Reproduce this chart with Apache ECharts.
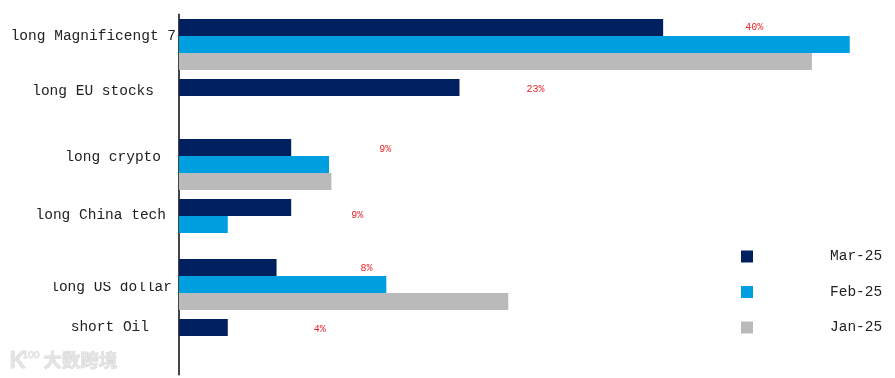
<!DOCTYPE html>
<html>
<head>
<meta charset="utf-8">
<style>
  html, body { margin: 0; padding: 0; background: #fff; }
  #chart { width: 895px; height: 378px; }
</style>
<script src="https://cdn.jsdelivr.net/npm/echarts@6/dist/echarts.min.js"></script>
</head>
<body>
<div id="chart"></div>
<script>
// categories, top to bottom
const categories = ['long Magnificengt 7', 'long EU stocks', 'long crypto', 'long China tech', 'long US dollar', 'short Oil'];

// values in %
const mar25 = [39.7, 23, 9.2, 9.2, 8, 4];
const feb25 = [55, null, 12.3, 4, 17, null];
const jan25 = [51.9, null, 12.5, null, 27, null];

// the picture's labels sit away from the bars and off-centre, so nudge each one
const labelNudge = [[82, 0], [67, 2], [88, 2], [60, 8], [84, 1], [86, 2]];
const catLabelPadding = [[0, 3, 1, 0], [0, 25, 6, 0], [0, 18, 0, 0], [0, 13, 2, 0], [0, 7, -10, 0], [0, 30, 10, 0]];

const chart = echarts.init(document.getElementById('chart'));
const fontFamily = '"Liberation Mono", monospace';

chart.setOption({
  animation: false,
  backgroundColor: '#fff',
  grid: { left: 179, top: 14.5, width: 700, height: 360 },
  legend: {
    orient: 'vertical',
    left: 741,
    top: 249,
    padding: 0,
    itemWidth: 12,
    itemHeight: 12,
    itemGap: 20.5,
    icon: 'rect',
    selectedMode: false,
    textStyle: { fontFamily: fontFamily, fontSize: 14.5, color: '#222', padding: [0, 0, 0, 72] }
  },
  xAxis: { type: 'value', min: 0, max: 57.4, show: false },
  yAxis: {
    type: 'category',
    inverse: true,
    data: categories.map((name, i) => ({
      value: name,
      textStyle: { verticalAlign: 'bottom', padding: catLabelPadding[i] }
    })),
    axisLine: { lineStyle: { color: '#444', width: 2 } },
    axisTick: { show: false },
    axisLabel: { margin: 0, fontFamily: fontFamily, fontSize: 14.5, color: '#222' }
  },
  series: [
    {
      name: 'Mar-25',
      type: 'bar',
      data: mar25.map((v, i) => ({
        value: v,
        label: { offset: labelNudge[i] }
      })),
      barWidth: 17,
      barGap: 0,
      itemStyle: { color: '#002060' },
      label: {
        show: true,
        position: 'right',
        distance: 0,
        formatter: (p) => Math.round(p.value) + '%',
        fontFamily: fontFamily,
        fontSize: 10,
        color: '#e8262a'
      }
    },
    { name: 'Feb-25', type: 'bar', data: feb25, barWidth: 17, barGap: 0, itemStyle: { color: '#009fdf' } },
    { name: 'Jan-25', type: 'bar', data: jan25, barWidth: 17, barGap: 0, itemStyle: { color: '#bababa' } }
  ],
  graphic: [
    // white patch hiding the top of the "long US dollar" label, as in the picture
    { type: 'rect', z: 100, shape: { x: 40, y: 270, width: 136, height: 12 }, style: { fill: '#fff' } },
    // watermark
    { type: 'text', z: 100, left: 43, top: 350, style: { text: '大数跨境', fontFamily: '"Noto Sans CJK SC"', fontSize: 18.5, fontWeight: 'bold', fill: '#e4e4e4', stroke: '#c4c4c4', lineWidth: 0.5 } },
    { type: 'text', z: 100, left: 9, top: 349, style: { text: 'K', fontFamily: 'Lato', fontSize: 23, fontWeight: 'bold', fill: '#e4e4e4', stroke: '#c4c4c4', lineWidth: 0.5 } },
    { type: 'text', z: 100, left: 22, top: 350, style: { text: '100', fontFamily: 'Lato', fontSize: 10, fontWeight: 'bold', fill: '#e4e4e4', stroke: '#c4c4c4', lineWidth: 0.3 } }
  ]
});
</script>
</body>
</html>
